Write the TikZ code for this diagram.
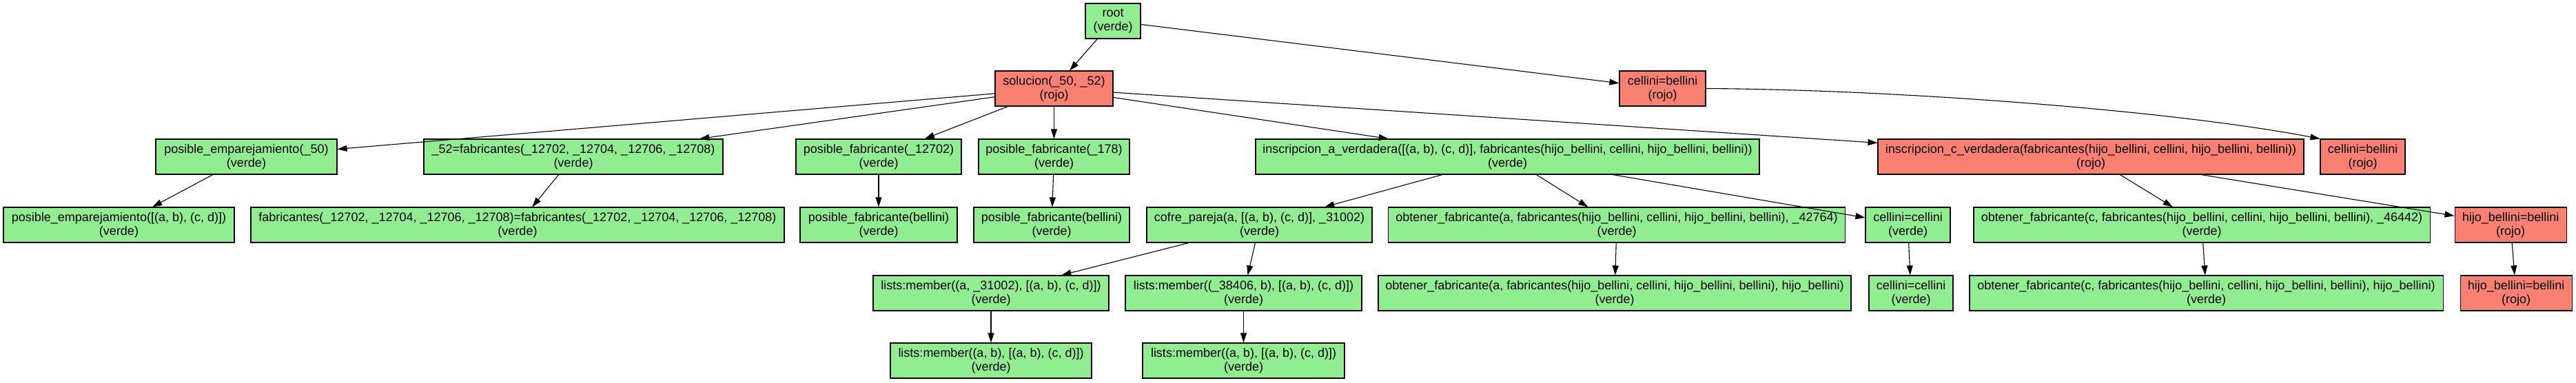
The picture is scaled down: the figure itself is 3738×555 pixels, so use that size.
\documentclass[tikz,border=0pt]{standalone}
\usepackage{fontspec}
\setmainfont{Liberation Sans}
\usetikzlibrary{arrows.meta}
\definecolor{vgreen}{HTML}{90EE90}
\definecolor{vred}{HTML}{FA8072}
\tikzset{
  box/.style={draw=black, line width=1.1pt, minimum height=51pt, inner sep=0pt, align=center, font=\fontsize{18}{20}\selectfont},
  verde/.style={box, fill=vgreen},
  rojo/.style={box, fill=vred},
  conn/.style={-{Triangle[length=14pt,width=9pt]}, line width=1.1pt},
}
\begin{document}
\begin{tikzpicture}[x=1pt,y=-1pt]
\useasboundingbox (0,0) rectangle (3738,555);
% row 0
\node[verde, minimum width=80pt] (root) at (1615,30.5) {root\\(verde)};
% row 1
\node[rojo, minimum width=171pt] (sol) at (1529.5,128.5) {solucion(\_50, \_52)\\(rojo)};
\node[rojo, minimum width=125pt] (cb1) at (2412.5,128.5) {cellini=bellini\\(rojo)};
% row 2
\node[verde, minimum width=263pt] (pe50) at (357.5,227.5) {posible\_emparejamiento(\_50)\\(verde)};
\node[verde, minimum width=434pt] (f52) at (832,227.5) {\_52=fabricantes(\_12702, \_12704, \_12706, \_12708)\\(verde)};
\node[verde, minimum width=240pt] (pf12702) at (1275,227.5) {posible\_fabricante(\_12702)\\(verde)};
\node[verde, minimum width=219pt] (pf178) at (1529.5,227.5) {posible\_fabricante(\_178)\\(verde)};
\node[verde, minimum width=731pt] (ia) at (2187.5,227.5) {inscripcion\_a\_verdadera([(a, b), (c, d)], fabricantes(hijo\_bellini, cellini, hijo\_bellini, bellini))\\(verde)};
\node[rojo, minimum width=618pt] (ic) at (3034,227.5) {inscripcion\_c\_verdadera(fabricantes(hijo\_bellini, cellini, hijo\_bellini, bellini))\\(rojo)};
\node[rojo, minimum width=123pt] (cb2) at (3428.5,227.5) {cellini=bellini\\(rojo)};
% row 3
\node[verde, minimum width=335pt] (peL) at (172.5,326.5) {posible\_emparejamiento([(a, b), (c, d)])\\(verde)};
\node[verde, minimum width=774pt] (fEq) at (751,326.5) {fabricantes(\_12702, \_12704, \_12706, \_12708)=fabricantes(\_12702, \_12704, \_12706, \_12708)\\(verde)};
\node[verde, minimum width=228pt] (pfb1) at (1275,326.5) {posible\_fabricante(bellini)\\(verde)};
\node[verde, minimum width=226pt] (pfb2) at (1526,326.5) {posible\_fabricante(bellini)\\(verde)};
\node[verde, minimum width=327pt] (cofre) at (1827.5,326.5) {cofre\_pareja(a, [(a, b), (c, d)], \_31002)\\(verde)};
\node[verde, minimum width=663pt] (ofa) at (2346,326.5) {obtener\_fabricante(a, fabricantes(hijo\_bellini, cellini, hijo\_bellini, bellini), \_42764)\\(verde)};
\node[verde, minimum width=123pt] (cc1) at (2768.5,326.5) {cellini=cellini\\(verde)};
\node[verde, minimum width=662pt] (ofc) at (3195,326.5) {obtener\_fabricante(c, fabricantes(hijo\_bellini, cellini, hijo\_bellini, bellini), \_46442)\\(verde)};
\node[rojo, minimum width=162pt] (hb1) at (3643,326.5) {hijo\_bellini=bellini\\(rojo)};
% row 4
\node[verde, minimum width=342pt] (lm1) at (1438,425.5) {lists:member((a, \_31002), [(a, b), (c, d)])\\(verde)};
\node[verde, minimum width=343pt] (lm2) at (1804.5,425.5) {lists:member((\_38406, b), [(a, b), (c, d)])\\(verde)};
\node[verde, minimum width=686pt] (ofa2) at (2343,425.5) {obtener\_fabricante(a, fabricantes(hijo\_bellini, cellini, hijo\_bellini, bellini), hijo\_bellini)\\(verde)};
\node[verde, minimum width=122pt] (cc2) at (2773,425.5) {cellini=cellini\\(verde)};
\node[verde, minimum width=687pt] (ofc2) at (3201.5,425.5) {obtener\_fabricante(c, fabricantes(hijo\_bellini, cellini, hijo\_bellini, bellini), hijo\_bellini)\\(verde)};
\node[rojo, minimum width=162pt] (hb2) at (3651,425.5) {hijo\_bellini=bellini\\(rojo)};
% row 5
\node[verde, minimum width=292pt] (lm3) at (1438,523.5) {lists:member((a, b), [(a, b), (c, d)])\\(verde)};
\node[verde, minimum width=293pt] (lm4) at (1804.5,523.5) {lists:member((a, b), [(a, b), (c, d)])\\(verde)};
% edges
\draw[conn] (root) -- (sol);
\draw[conn] (root) -- (cb1);
\draw[conn] (sol) -- (pe50);
\draw[conn] (sol) -- (f52);
\draw[conn] (sol) -- (pf12702);
\draw[conn] (sol) -- (pf178);
\draw[conn] (sol) -- (ia);
\draw[conn] (sol) -- (ic);
\draw[conn] (cb1.east) .. controls (2750,130) and (3150,160) .. (cb2.north west);
\draw[conn] (pe50) -- (peL);
\draw[conn] (f52) -- (fEq);
\draw[conn] (pf12702) -- (pfb1);
\draw[conn] (pf178) -- (pfb2);
\draw[conn] (ia) -- (cofre);
\draw[conn] (ia) -- (ofa);
\draw[conn] (ia) -- (cc1);
\draw[conn] (ic) -- (ofc);
\draw[conn] (ic) -- (hb1);
\draw[conn] (cofre) -- (lm1);
\draw[conn] (cofre) -- (lm2);
\draw[conn] (ofa) -- (ofa2);
\draw[conn] (cc1) -- (cc2);
\draw[conn] (ofc) -- (ofc2);
\draw[conn] (hb1) -- (hb2);
\draw[conn] (lm1) -- (lm3);
\draw[conn] (lm2) -- (lm4);
\end{tikzpicture}
\end{document}
